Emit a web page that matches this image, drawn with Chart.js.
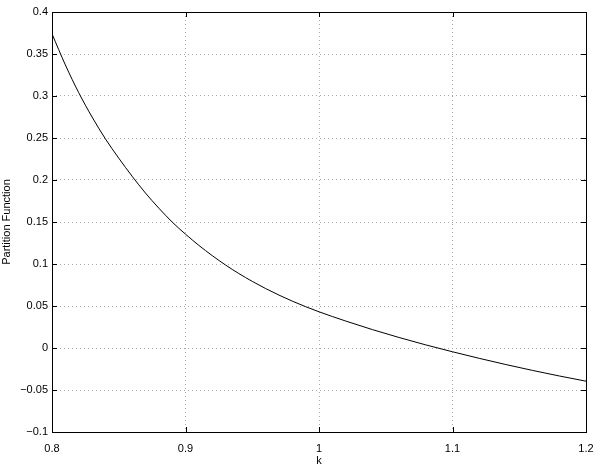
<!DOCTYPE html>
<html>
<head>
<meta charset="utf-8">
<script src="https://cdn.jsdelivr.net/npm/chart.js@4"></script>
<style>
  html, body { margin: 0; padding: 0; background: #fff; }
  #wrap { width: 599px; height: 465px; }
</style>
</head>
<body>
<div id="wrap"><canvas id="chart" width="599" height="465"></canvas></div>
<script>
// values
const kValues = [0.80, 0.81, 0.82, 0.83, 0.84, 0.85, 0.86, 0.87, 0.88, 0.89,
                 0.90, 0.91, 0.92, 0.93, 0.94, 0.95, 0.96, 0.97, 0.98, 0.99,
                 1.00, 1.02, 1.04, 1.06, 1.08, 1.10, 1.12, 1.14, 1.16, 1.18, 1.20];
const partition = [0.374, 0.337, 0.304, 0.275, 0.249, 0.226, 0.2045, 0.1845, 0.1665, 0.150,
                   0.1355, 0.1222, 0.110, 0.0988, 0.0886, 0.0793, 0.0708, 0.063, 0.0558, 0.0492,
                   0.0431, 0.0321, 0.0219, 0.0125, 0.0037, -0.0045, -0.0123, -0.0197, -0.0267, -0.0333, -0.0395];
const xTicks = [0.8, 0.9, 1, 1.1, 1.2];
const yTicks = [-0.1, -0.05, 0, 0.05, 0.1, 0.15, 0.2, 0.25, 0.3, 0.35, 0.4];

const points = kValues.map((k, i) => ({ x: k, y: partition[i] }));

function fmt(v) {
    const s = String(Math.round(v * 1000) / 1000);
    return s.replace('-', '\u2212');
}

// box around the plot with inward ticks on all sides (matlab style)
const boxPlugin = {
    id: 'box',
    afterDatasetsDraw(chart) {
        const { ctx, chartArea: a, scales } = chart;
        const len = 5;
        ctx.save();
        ctx.strokeStyle = '#000';
        ctx.lineWidth = 1;
        ctx.beginPath();
        xTicks.forEach(t => {
            const x = Math.round(scales.x.getPixelForValue(t)) + 0.5;
            ctx.moveTo(x, a.bottom); ctx.lineTo(x, a.bottom - len);
            ctx.moveTo(x, a.top); ctx.lineTo(x, a.top + len);
        });
        yTicks.forEach(t => {
            const y = Math.round(scales.y.getPixelForValue(t)) + 0.5;
            ctx.moveTo(a.left, y); ctx.lineTo(a.left + len, y);
            ctx.moveTo(a.right, y); ctx.lineTo(a.right - len, y);
        });
        ctx.stroke();
        ctx.strokeRect(Math.round(a.left) + 0.5, Math.round(a.top) + 0.5,
                       Math.round(a.right - a.left), Math.round(a.bottom - a.top));
        ctx.restore();
    }
};

Chart.defaults.font.family = '"Liberation Sans", Arial, Helvetica, sans-serif';
Chart.defaults.font.size = 11;
Chart.defaults.color = '#000';

new Chart(document.getElementById('chart'), {
    type: 'line',
    data: {
        datasets: [{
            data: points,
            borderColor: '#000',
            borderWidth: 1,
            pointRadius: 0,
            cubicInterpolationMode: 'monotone',
            fill: false
        }]
    },
    options: {
        responsive: false,
        animation: false,
        layout: { padding: { top: 12, right: 13, left: 0, bottom: 0 } },
        plugins: { legend: { display: false }, tooltip: { enabled: false } },
        scales: {
            x: {
                type: 'linear',
                min: 0.8,
                max: 1.2,
                afterBuildTicks(scale) { scale.ticks = xTicks.map(v => ({ value: v })); },
                afterFit(scale) {
                    scale.height = 33;
                    scale.paddingLeft = 0;
                    scale.paddingRight = 0;
                },
                ticks: { callback: v => fmt(v), maxRotation: 0, padding: 10 },
                grid: { color: '#aaa', drawTicks: false, lineWidth: 1 },
                border: { display: false, dash: [1, 3] },
                title: { display: true, text: 'k', padding: { top: 0, bottom: -3 } }
            },
            y: {
                type: 'linear',
                min: -0.1,
                max: 0.4,
                afterBuildTicks(scale) { scale.ticks = yTicks.map(v => ({ value: v })); },
                afterFit(scale) {
                    scale.width = 52;
                    scale.paddingTop = 0;
                    scale.paddingBottom = 0;
                },
                ticks: { callback: v => fmt(v), padding: 4 },
                grid: { color: '#aaa', drawTicks: false, lineWidth: 1 },
                border: { display: false, dash: [1, 3] },
                title: { display: true, text: 'Partition Function', padding: { top: 0, bottom: 2 } }
            }
        }
    },
    plugins: [boxPlugin]
});
</script>
</body>
</html>
